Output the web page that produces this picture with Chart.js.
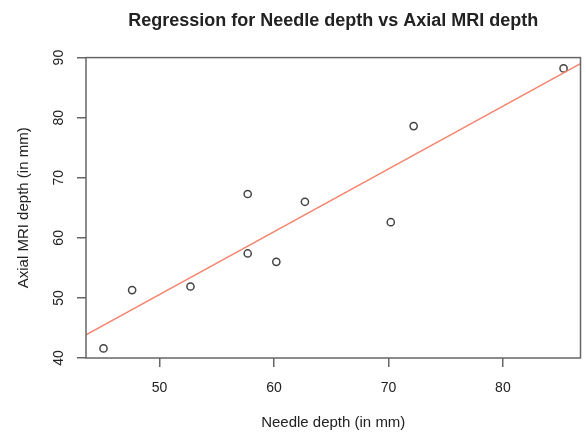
<!DOCTYPE html>
<html>
<head>
<meta charset="utf-8">
<script src="https://cdn.jsdelivr.net/npm/chart.js"></script>
<style>
  html, body { margin: 0; padding: 0; background: #fff; }
  canvas { display: block; }
</style>
</head>
<body>
<canvas id="chart" width="586" height="433"></canvas>
<script>
// values
const needleDepth = [45.1, 47.6, 52.7, 57.7, 57.7, 60.2, 62.7, 70.2, 72.2, 85.3];
const mriDepth = [41.6, 51.3, 51.9, 67.3, 57.4, 56.0, 66.0, 62.6, 78.6, 88.2];

// fitted line, ends at the plot edges
const fitX = [43.57, 86.78];
const fitY = [43.85, 89.0];

const xTicks = [50, 60, 70, 80];
const yTicks = [40, 50, 60, 70, 80, 90];
const xRange = [43.57, 86.78];
const yRange = [40, 90];

const FONT = 'Liberation Sans, Arial, Helvetica, sans-serif';
const LINE = '#666';
const TEXT = '#222';

// plot frame like R's box()
const boxPlugin = {
  id: 'box',
  afterDraw(chart) {
    const { ctx, chartArea: a } = chart;
    ctx.save();
    ctx.strokeStyle = LINE;
    ctx.lineWidth = 1.5;
    ctx.strokeRect(a.left, a.top, a.right - a.left, a.bottom - a.top);
    ctx.restore();
  }
};

const tickGrid = {
  display: true,
  drawOnChartArea: false,
  drawTicks: true,
  tickLength: 9,
  color: LINE,
  lineWidth: 1.5
};

new Chart(document.getElementById('chart'), {
  type: 'scatter',
  data: {
    datasets: [
      {
        label: 'fit',
        type: 'line',
        data: fitX.map((x, i) => ({ x, y: fitY[i] })),
        borderColor: '#f4866f',
        borderWidth: 1.6,
        pointRadius: 0,
        fill: false
      },
      {
        label: 'points',
        data: needleDepth.map((x, i) => ({ x, y: mriDepth[i] })),
        pointStyle: 'circle',
        pointRadius: 3.6,
        pointBorderWidth: 1.5,
        pointBorderColor: '#444',
        pointBackgroundColor: 'rgba(0,0,0,0)'
      }
    ]
  },
  options: {
    responsive: false,
    animation: false,
    layout: { padding: { left: 0, right: 3, top: 0, bottom: 0 } },
    plugins: {
      legend: { display: false },
      tooltip: { enabled: false },
      title: {
        display: true,
        fullSize: false,
        text: 'Regression for Needle depth vs Axial MRI depth',
        color: TEXT,
        font: { family: FONT, size: 18, weight: 'bold' },
        padding: { top: 10, bottom: 26 }
      }
    },
    scales: {
      x: {
        type: 'linear',
        min: xRange[0],
        max: xRange[1],
        afterBuildTicks: s => { s.ticks = xTicks.map(v => ({ value: v })); },
        afterFit: s => { s.height = 75; },
        grid: tickGrid,
        border: { display: false },
        ticks: {
          color: TEXT,
          font: { family: FONT, size: 14 },
          padding: 13,
          maxRotation: 0
        },
        title: {
          display: true,
          text: 'Needle depth (in mm)',
          color: TEXT,
          font: { family: FONT, size: 15 },
          padding: { top: 0, bottom: 1 }
        }
      },
      y: {
        type: 'linear',
        min: yRange[0],
        max: yRange[1],
        afterBuildTicks: s => { s.ticks = yTicks.map(v => ({ value: v })); },
        afterFit: s => { s.width = 86; },
        grid: tickGrid,
        border: { display: false },
        ticks: {
          color: TEXT,
          font: { family: FONT, size: 14 },
          padding: 10,
          minRotation: 90,
          maxRotation: 90,
          crossAlign: 'center'
        },
        title: {
          display: true,
          text: 'Axial MRI depth (in mm)',
          color: TEXT,
          font: { family: FONT, size: 15 },
          padding: { top: 15, bottom: 0 }
        }
      }
    }
  },
  plugins: [boxPlugin]
});
</script>
</body>
</html>
